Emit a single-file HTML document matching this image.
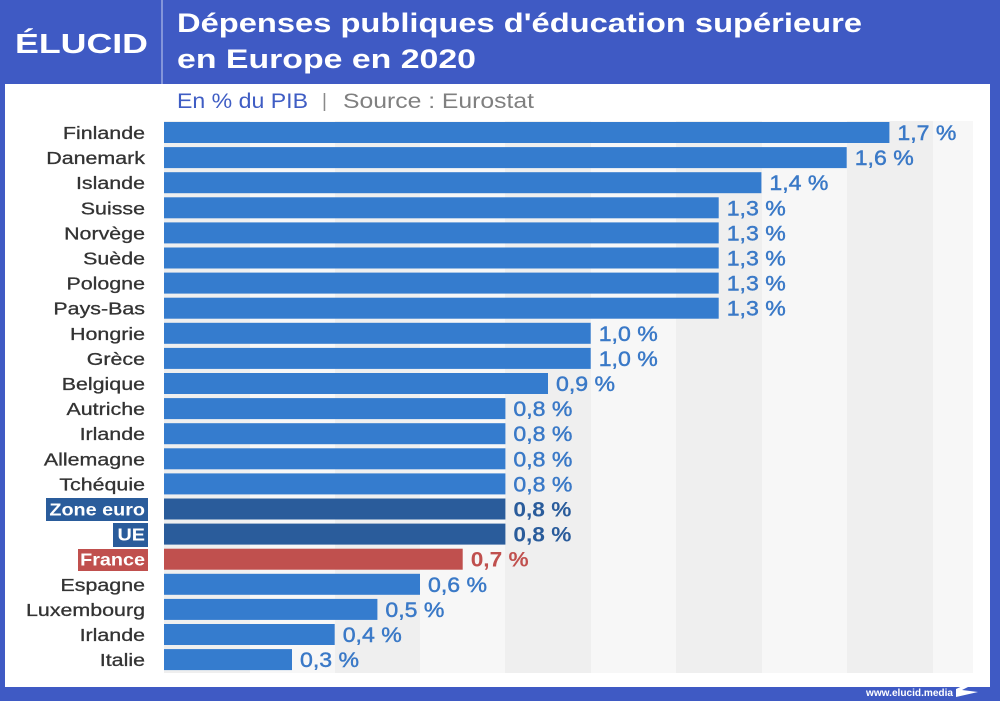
<!DOCTYPE html>
<html>
<head>
<meta charset="utf-8">
<style>
  html,body{margin:0;padding:0;background:#3f5ac4;}
  svg{display:block;}
  text{font-family:"Liberation Sans", Arial, sans-serif;}
</style>
</head>
<body>
<svg width="1000" height="701" viewBox="0 0 1000 701" xmlns="http://www.w3.org/2000/svg">
  <!-- background / frame -->
  <rect x="0" y="0" width="1000" height="701" fill="#3f5ac4"/>
  <rect x="5" y="84" width="985" height="603" fill="#ffffff"/>
  <!-- header divider -->
  <line x1="162" y1="0" x2="162" y2="84" stroke="#9aa9e2" stroke-width="1.5"/>

  <!-- logo -->
  <text x="15" y="53" font-size="28" font-weight="bold" fill="#ffffff" textLength="133" lengthAdjust="spacingAndGlyphs">ÉLUCID</text>

  <!-- title -->
  <text x="177" y="32" font-size="27" font-weight="bold" fill="#ffffff" textLength="685" lengthAdjust="spacingAndGlyphs">Dépenses publiques d'éducation supérieure</text>
  <text x="177" y="68" font-size="27" font-weight="bold" fill="#ffffff" textLength="299" lengthAdjust="spacingAndGlyphs">en Europe en 2020</text>

  <!-- subtitle -->
  <text x="177" y="108" font-size="21" fill="#3f5dc4" textLength="131" lengthAdjust="spacingAndGlyphs">En % du PIB</text>
  <text x="322" y="107" font-size="19" fill="#8a8a8a">|</text>
  <text x="343" y="108" font-size="21" fill="#808080" textLength="191" lengthAdjust="spacingAndGlyphs">Source : Eurostat</text>

  <!-- plot bands -->
  <rect x="164" y="121" width="809" height="552" fill="#f7f7f7"/>
  <rect x="164" y="121" width="86" height="552" fill="#efefef"/>
  <rect x="335" y="121" width="85" height="552" fill="#efefef"/>
  <rect x="505" y="121" width="86" height="552" fill="#efefef"/>
  <rect x="676" y="121" width="86" height="552" fill="#efefef"/>
  <rect x="847" y="121" width="86" height="552" fill="#efefef"/>

  <!-- bars -->
  <g fill="#357cce">
    <rect x="164" y="122" width="725.4" height="21"/>
    <rect x="164" y="147.1" width="682.7" height="21"/>
    <rect x="164" y="172.2" width="597.4" height="21"/>
    <rect x="164" y="197.3" width="554.7" height="21"/>
    <rect x="164" y="222.4" width="554.7" height="21"/>
    <rect x="164" y="247.5" width="554.7" height="21"/>
    <rect x="164" y="272.6" width="554.7" height="21"/>
    <rect x="164" y="297.7" width="554.7" height="21"/>
    <rect x="164" y="322.8" width="426.7" height="21"/>
    <rect x="164" y="347.9" width="426.7" height="21"/>
    <rect x="164" y="373" width="384" height="21"/>
    <rect x="164" y="398.1" width="341.4" height="21"/>
    <rect x="164" y="423.2" width="341.4" height="21"/>
    <rect x="164" y="448.3" width="341.4" height="21"/>
    <rect x="164" y="473.4" width="341.4" height="21"/>
    <rect x="164" y="573.8" width="256" height="21"/>
    <rect x="164" y="598.9" width="213.4" height="21"/>
    <rect x="164" y="624" width="170.7" height="21"/>
    <rect x="164" y="649.1" width="128" height="21"/>
  </g>
  <rect x="164" y="498.5" width="341.4" height="21" fill="#2a5c9b"/>
  <rect x="164" y="523.6" width="341.4" height="21" fill="#2a5c9b"/>
  <rect x="164" y="548.7" width="298.7" height="21" fill="#c0504e"/>

  <!-- label highlight boxes -->
  <rect x="46" y="498" width="102" height="23" fill="#2a5c9b"/>
  <rect x="113" y="523" width="35" height="24" fill="#2a5c9b"/>
  <rect x="78" y="549" width="70" height="22" fill="#c0504e"/>

  <!-- category labels -->
  <g font-size="18" fill="#333333" stroke="#333333" stroke-width="0.3" text-anchor="end">
    <text transform="translate(145,139) scale(1.19,1)">Finlande</text>
    <text transform="translate(145,164.1) scale(1.19,1)">Danemark</text>
    <text transform="translate(145,189.2) scale(1.19,1)">Islande</text>
    <text transform="translate(145,214.3) scale(1.19,1)">Suisse</text>
    <text transform="translate(145,239.4) scale(1.19,1)">Norvège</text>
    <text transform="translate(145,264.5) scale(1.19,1)">Suède</text>
    <text transform="translate(145,289.6) scale(1.19,1)">Pologne</text>
    <text transform="translate(145,314.7) scale(1.19,1)">Pays-Bas</text>
    <text transform="translate(145,339.8) scale(1.19,1)">Hongrie</text>
    <text transform="translate(145,364.9) scale(1.19,1)">Grèce</text>
    <text transform="translate(145,390) scale(1.19,1)">Belgique</text>
    <text transform="translate(145,415.1) scale(1.19,1)">Autriche</text>
    <text transform="translate(145,440.2) scale(1.19,1)">Irlande</text>
    <text transform="translate(145,465.3) scale(1.19,1)">Allemagne</text>
    <text transform="translate(145,490.4) scale(1.19,1)">Tchéquie</text>
    <text transform="translate(145,590.8) scale(1.19,1)">Espagne</text>
    <text transform="translate(145,615.9) scale(1.19,1)">Luxembourg</text>
    <text transform="translate(145,641) scale(1.19,1)">Irlande</text>
    <text transform="translate(145,666.1) scale(1.19,1)">Italie</text>
  </g>
  <g font-size="18" font-weight="bold" fill="#ffffff" text-anchor="end">
    <text transform="translate(145,515.5) scale(1.1,1)">Zone euro</text>
    <text transform="translate(145,540.6) scale(1.1,1)">UE</text>
    <text transform="translate(145,565.7) scale(1.1,1)">France</text>
  </g>

  <!-- value labels -->
  <g font-size="21" fill="#3a79c7" stroke="#3a79c7" stroke-width="0.45">
    <text transform="translate(897.4,140) scale(1.1,1)">1,7 %</text>
    <text transform="translate(854.7,165.1) scale(1.1,1)">1,6 %</text>
    <text transform="translate(769.4,190.2) scale(1.1,1)">1,4 %</text>
    <text transform="translate(726.7,215.3) scale(1.1,1)">1,3 %</text>
    <text transform="translate(726.7,240.4) scale(1.1,1)">1,3 %</text>
    <text transform="translate(726.7,265.5) scale(1.1,1)">1,3 %</text>
    <text transform="translate(726.7,290.6) scale(1.1,1)">1,3 %</text>
    <text transform="translate(726.7,315.7) scale(1.1,1)">1,3 %</text>
    <text transform="translate(598.7,340.8) scale(1.1,1)">1,0 %</text>
    <text transform="translate(598.7,365.9) scale(1.1,1)">1,0 %</text>
    <text transform="translate(556,391) scale(1.1,1)">0,9 %</text>
    <text transform="translate(513.4,416.1) scale(1.1,1)">0,8 %</text>
    <text transform="translate(513.4,441.2) scale(1.1,1)">0,8 %</text>
    <text transform="translate(513.4,466.3) scale(1.1,1)">0,8 %</text>
    <text transform="translate(513.4,491.4) scale(1.1,1)">0,8 %</text>
    <text transform="translate(428,591.8) scale(1.1,1)">0,6 %</text>
    <text transform="translate(385.4,616.9) scale(1.1,1)">0,5 %</text>
    <text transform="translate(342.7,642) scale(1.1,1)">0,4 %</text>
    <text transform="translate(300,667.1) scale(1.1,1)">0,3 %</text>
  </g>
  <g font-size="21" font-weight="bold">
    <text transform="translate(513.4,516.5) scale(1.08,1)" fill="#2a5c9b">0,8 %</text>
    <text transform="translate(513.4,541.6) scale(1.08,1)" fill="#2a5c9b">0,8 %</text>
    <text transform="translate(470.7,566.7) scale(1.08,1)" fill="#c0504e">0,7 %</text>
  </g>

  <!-- footer -->
  <text x="866" y="696" font-size="10.5" font-weight="bold" fill="#ffffff" textLength="87" lengthAdjust="spacingAndGlyphs">www.elucid.media</text>
  <polygon points="956,689 978,679 978,682 962,690 978,692 956,697" fill="#ffffff"/>
</svg>
</body>
</html>
